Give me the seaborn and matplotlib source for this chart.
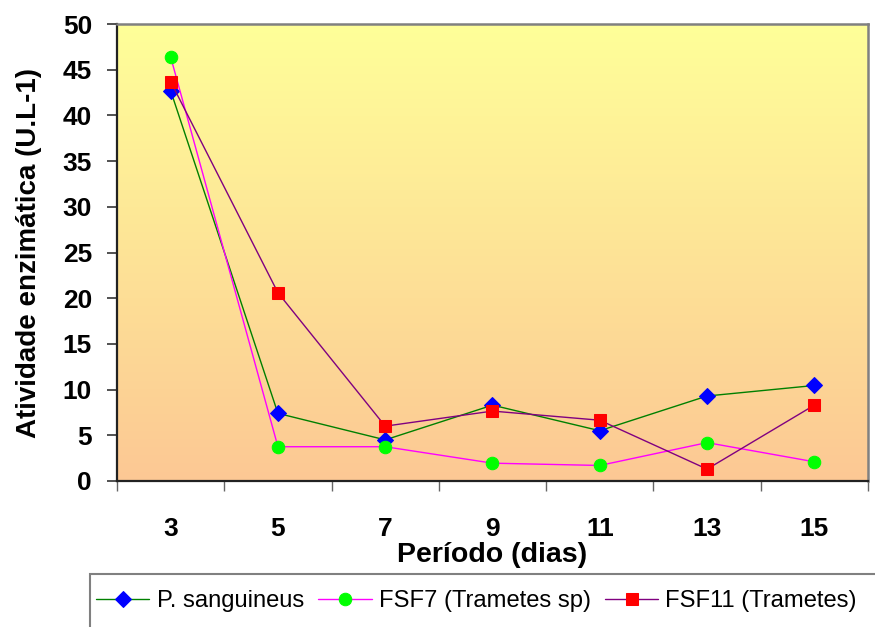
import numpy as np
import pandas as pd
import matplotlib
matplotlib.use("Agg")
import matplotlib.pyplot as plt
import seaborn as sns
from matplotlib.colors import LinearSegmentedColormap
from matplotlib.ticker import FixedLocator
from matplotlib.patches import Rectangle

# ---- data ----
dias = [3, 5, 7, 9, 11, 13, 15]
p_sanguineus = [42.7, 7.4, 4.5, 8.3, 5.5, 9.3, 10.45]
fsf7 = [46.4, 3.75, 3.75, 1.95, 1.7, 4.2, 2.1]
fsf11 = [43.7, 20.6, 6.0, 7.65, 6.65, 1.3, 8.3]
series_names = ["P. sanguineus", "FSF7 (Trametes sp)", "FSF11 (Trametes)"]
y_ticks = [0, 5, 10, 15, 20, 25, 30, 35, 40, 45, 50]
x_bounds = [2, 4, 6, 8, 10, 12, 14, 16]

sns.set_style("white")
plt.rcParams["font.family"] = ["Liberation Sans", "DejaVu Sans"]
plt.rcParams["text.color"] = "black"
plt.rcParams["axes.labelcolor"] = "black"
plt.rcParams["xtick.labelcolor"] = "black"
plt.rcParams["ytick.labelcolor"] = "black"

W, H = 875, 627
fig = plt.figure(figsize=(W / 100, H / 100), dpi=100)
L, R, T, B = 117, 868, 24, 481
ax = fig.add_axes([L / W, 1 - B / H, (R - L) / W, (B - T) / H])

# gradient background
cmap = LinearSegmentedColormap.from_list("bg", ["#FCC894", "#FFFF99"])
grad = np.linspace(0, 1, 256).reshape(-1, 1)
ax.imshow(grad, extent=[0, 1, 0, 1], transform=ax.transAxes, aspect="auto",
          cmap=cmap, origin="lower", zorder=0)

styles = [
    dict(color="#008000", marker="D", mc="#0000FF", ms=8.5),
    dict(color="#FF00FF", marker="o", mc="#00FF00", ms=9),
    dict(color="#800080", marker="s", mc="#FF0000", ms=9),
]
for name, vals, st in zip(series_names, [p_sanguineus, fsf7, fsf11], styles):
    df = pd.DataFrame({"dia": dias, "valor": vals})
    sns.lineplot(data=df, x="dia", y="valor", ax=ax, color=st["color"],
                 marker=st["marker"], markersize=st["ms"],
                 markerfacecolor=st["mc"], markeredgecolor=st["mc"],
                 linewidth=1.0, label=name, zorder=3)

if ax.get_legend() is not None:
    ax.get_legend().remove()

ax.set_xlim(2, 16)
ax.set_ylim(0, 50)

ax.set_yticks(y_ticks)
ax.set_yticklabels([str(v) for v in y_ticks], fontsize=19, fontweight="bold",
                   color="black")
ax.tick_params(axis="y", direction="out", length=7, width=1.2, color="#333333",
               pad=11, left=True)

ax.set_xticks(dias)
ax.set_xticklabels([str(d) for d in dias], fontsize=19, fontweight="bold",
                   color="black")
ax.xaxis.set_minor_locator(FixedLocator(x_bounds))
ax.tick_params(axis="x", which="major", length=0, pad=26)
ax.tick_params(axis="x", which="minor", direction="out", length=7, width=1.0,
               color="#666666", bottom=True)

for s in ["left", "bottom"]:
    ax.spines[s].set_color("#222222")
    ax.spines[s].set_linewidth(1.6)
for s in ["top", "right"]:
    ax.spines[s].set_color("#808080")
    ax.spines[s].set_linewidth(1.8)

ax.set_ylabel("Atividade enzimática (U.L-1)", fontsize=20, fontweight="bold",
              color="black")
ax.set_xlabel("Período (dias)", fontsize=20.5, fontweight="bold", color="black")
ax.yaxis.set_label_coords(-(L - 42) / (R - L), 0.5)
ax.xaxis.set_label_coords(0.5, -(542 - B) / (B - T))

# legend frame (extends below the figure edge)
fig.patches.append(Rectangle((90 / W, -0.05), (W + 5 - 90) / W, (1 - 574 / H) + 0.05,
                             transform=fig.transFigure, facecolor="white",
                             edgecolor="#808080", linewidth=1.5, zorder=0))
handles, labels = ax.get_legend_handles_labels()
leg = fig.legend(handles, labels, loc="center left",
                 bbox_to_anchor=(96 / W, 1 - 601 / H), ncol=3, frameon=False,
                 fontsize=17.1, handlelength=2.25, handletextpad=0.3,
                 columnspacing=0.6, borderpad=0.0, borderaxespad=0.0)
for t in leg.get_texts():
    t.set_color("black")

fig.savefig("out.png", dpi=100)
